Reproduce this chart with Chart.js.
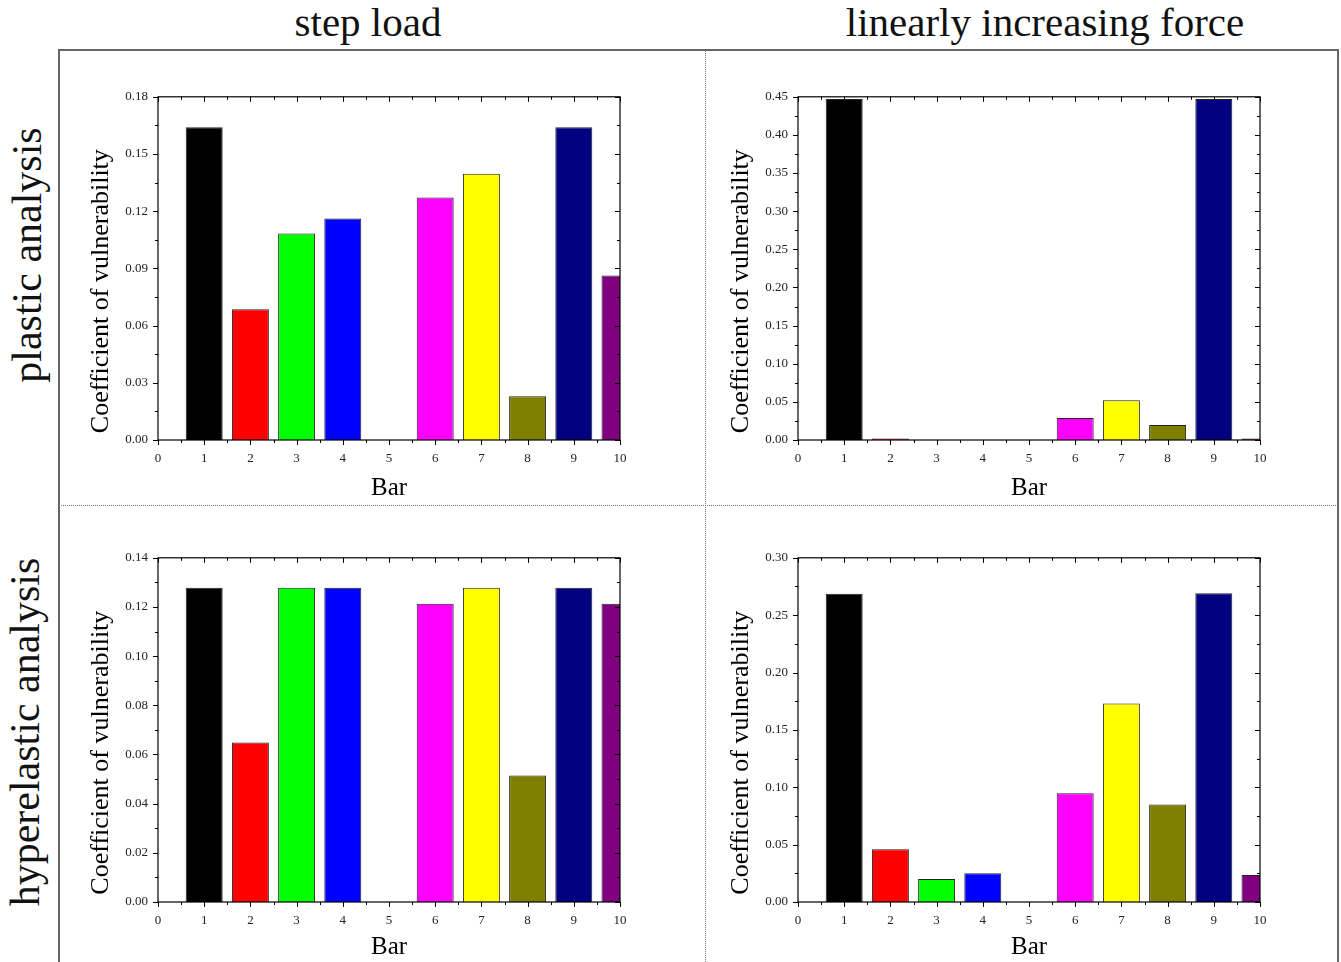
<!DOCTYPE html>
<html>
<head>
<meta charset="utf-8">
<script src="https://cdn.jsdelivr.net/npm/chart.js@4"></script>
<style>
body{margin:0;background:#fff;overflow:hidden;width:1341px;height:962px;position:relative;font-family:'Liberation Serif',serif;color:#111}
.frame{position:absolute;left:58px;top:49px;width:1281px;height:930px;border:2px solid #666;box-sizing:border-box}
.vdiv{position:absolute;left:705px;top:50px;height:912px;border-left:1.5px dotted #777}
.hdiv{position:absolute;left:59px;top:505px;width:1279px;border-top:1.5px dotted #777}
.coltitle{position:absolute;top:2px;width:600px;text-align:center;font-size:41px;line-height:41px;white-space:nowrap}
.rowtitle{position:absolute;width:420px;height:50px;line-height:50px;text-align:center;font-size:42px;white-space:nowrap;transform:rotate(-90deg)}
canvas{position:absolute}
</style>
</head>
<body>
<div class="frame"></div>
<div class="vdiv"></div>
<div class="hdiv"></div>
<div class="coltitle" style="left:68px">step load</div>
<div class="coltitle" style="left:745px">linearly increasing force</div>
<div class="rowtitle" style="left:-183px;top:230px">plastic analysis</div>
<div class="rowtitle" style="left:-185px;top:707px">hyperelastic analysis</div>
<canvas id="c1" width="554" height="424" style="left:86px;top:79px"></canvas>
<canvas id="c2" width="554" height="424" style="left:726px;top:79px"></canvas>
<canvas id="c3" width="554" height="422" style="left:86px;top:540px"></canvas>
<canvas id="c4" width="554" height="422" style="left:726px;top:540px"></canvas>
<script>
// bar numbers and colours
const bars = [1, 2, 3, 4, 5, 6, 7, 8, 9, 10];
const barColors = ['#000000', '#ff0000', '#00ff00', '#0000ff', '#00ffff',
                   '#ff00ff', '#ffff00', '#808000', '#000080', '#800080'];

// coefficient of vulnerability per bar
const plasticStep   = [0.164, 0.0686, 0.1083, 0.1162, 0, 0.1272, 0.1397, 0.023, 0.164, 0.0863];
const plasticLinear = [0.447, 0.002, 0, 0, 0, 0.0288, 0.052, 0.0196, 0.447, 0.002];
const hyperStep     = [0.1278, 0.0649, 0.1278, 0.1278, 0, 0.1213, 0.1278, 0.0515, 0.1278, 0.1213];
const hyperLinear   = [0.2687, 0.046, 0.020, 0.025, 0, 0.0948, 0.173, 0.085, 0.269, 0.0235];

// y axis range per panel
const yMax  = [0.18, 0.45, 0.14, 0.30];
const yStep = [0.03, 0.05, 0.02, 0.05];

const serif = 'Liberation Serif';

// box round the plot with major and minor ticks on every side
const frameTicks = {
  id: 'frameTicks',
  afterDraw(chart) {
    const { ctx, chartArea: a, scales: { x, y } } = chart;
    const xs = x.ticks.map(t => t.value);
    const ys = y.ticks.map(t => t.value);
    const minor = v => v.slice(1).map((t, i) => (t + v[i]) / 2);
    ctx.save();
    ctx.strokeStyle = '#000';
    ctx.lineWidth = 1.2;
    ctx.strokeRect(a.left, a.top, a.right - a.left, a.bottom - a.top);
    ctx.lineWidth = 1;
    ctx.beginPath();
    const tickX = (v, len) => {
      const px = Math.round(x.getPixelForValue(v)) + 0.5;
      ctx.moveTo(px, a.bottom); ctx.lineTo(px, a.bottom + len);
      ctx.moveTo(px, a.top); ctx.lineTo(px, a.top + len);
    };
    const tickY = (v, len) => {
      const py = Math.round(y.getPixelForValue(v)) + 0.5;
      ctx.moveTo(a.left, py); ctx.lineTo(a.left - len, py);
      ctx.moveTo(a.right, py); ctx.lineTo(a.right - len, py);
    };
    xs.forEach(v => tickX(v, 5));
    minor(xs).forEach(v => tickX(v, 3));
    ys.forEach(v => tickY(v, 5));
    minor(ys).forEach(v => tickY(v, 3));
    ctx.stroke();
    ctx.restore();
  }
};

function makePanel(id, values, max, step, xHeight) {
  new Chart(document.getElementById(id), {
    type: 'bar',
    data: {
      datasets: [{
        data: bars.map((b, i) => ({ x: b, y: values[i] })),
        backgroundColor: barColors,
        borderColor: '#222',
        borderWidth: 1,
        barPercentage: 0.8,
        categoryPercentage: 1,
        clip: 0
      }]
    },
    options: {
      responsive: false,
      animation: false,
      layout: { padding: { top: 3, right: 20, left: 0, bottom: 0 } },
      plugins: { legend: { display: false }, tooltip: { enabled: false } },
      scales: {
        x: {
          type: 'linear',
          min: 0,
          max: 10,
          offset: false,
          grid: { display: false, drawTicks: false, offset: false },
          border: { display: false },
          ticks: {
            stepSize: 1,
            autoSkip: false,
            maxRotation: 0,
            padding: 11,
            color: '#222',
            font: { family: serif, size: 13 }
          },
          title: {
            display: true,
            text: 'Bar',
            color: '#000',
            padding: 0,
            font: { family: serif, size: 25 }
          },
          afterFit: s => { s.height = xHeight; }
        },
        y: {
          min: 0,
          max: max,
          grid: { display: false, drawTicks: false },
          border: { display: false },
          ticks: {
            stepSize: step,
            padding: 10,
            color: '#222',
            font: { family: serif, size: 13 },
            callback: v => v.toFixed(2)
          },
          title: {
            display: true,
            // trailing spaces push the title a little below the axis centre, as in the source figure
            text: 'Coefficient of vulnerability' + '       ',
            color: '#000',
            padding: 0,
            font: { family: serif, size: 26 }
          },
          afterFit: s => { s.width = 72; }
        }
      }
    },
    plugins: [frameTicks]
  });
}

makePanel('c1', plasticStep, yMax[0], yStep[0], 63);
makePanel('c2', plasticLinear, yMax[1], yStep[1], 63);
makePanel('c3', hyperStep, yMax[2], yStep[2], 60);
makePanel('c4', hyperLinear, yMax[3], yStep[3], 60);
</script>
</body>
</html>
